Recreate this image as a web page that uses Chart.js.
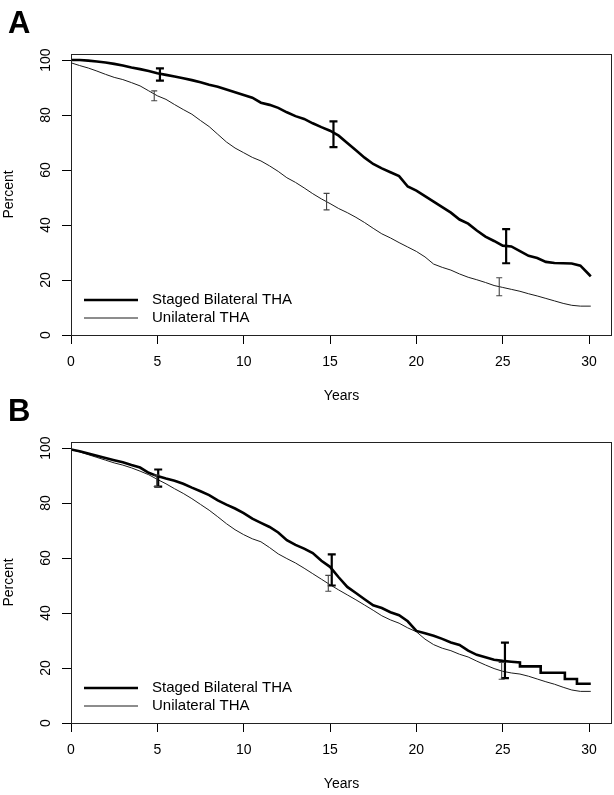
<!DOCTYPE html>
<html>
<head>
<meta charset="utf-8">
<script src="https://cdn.jsdelivr.net/npm/chart.js@4.4.1/dist/chart.umd.min.js"></script>
<style>
  html, body { margin: 0; padding: 0; background: #fff; }
  #page { position: relative; width: 614px; height: 795px; overflow: hidden; }
  .panel { position: absolute; left: 0; width: 614px; height: 407px; }
  #panelA { top: 0; }
  #panelB { top: 388px; }
</style>
</head>
<body>
<div id="page">
  <div class="panel" id="panelA"><canvas id="chartA" width="614" height="407"></canvas></div>
  <div class="panel" id="panelB"><canvas id="chartB" width="614" height="407"></canvas></div>
</div>
<script>
// time axis (years) shared by the curves
const years = [0, 0.5, 1, 1.5, 2, 2.5, 3, 3.5, 4, 4.5,
  5, 5.5, 6, 6.5, 7, 7.5, 8, 8.5, 9, 9.5,
  10, 10.5, 11, 11.5, 12, 12.5, 13, 13.5, 14, 14.5,
  15, 15.5, 16, 16.5, 17, 17.5, 18, 18.5, 19, 19.5,
  20, 20.5, 21, 21.5, 22, 22.5, 23, 23.5, 24, 24.5,
  25, 25.5, 26, 26.5, 27, 27.5, 28, 28.5, 29, 29.5,
  30, 30.1];
// panel B staged curve has clear steps in its tail
const yearsStagedB = [0, 0.5, 1, 1.5, 2, 2.5, 3, 3.5, 4, 4.5,
  5, 5.5, 6, 6.5, 7, 7.5, 8, 8.5, 9, 9.5,
  10, 10.5, 11, 11.5, 12, 12.5, 13, 13.5, 14, 14.5,
  15, 15.5, 16, 16.5, 17, 17.5, 18, 18.5, 19, 19.5,
  20, 20.5, 21, 21.5, 22, 22.5, 23, 23.5, 24, 24.5,
  25, 25.5, 26, 26, 27.2, 27.2, 28.6, 28.6, 29.3, 29.3, 30.1];

const xTicks = [0, 5, 10, 15, 20, 25, 30];
const yTicks = [0, 20, 40, 60, 80, 100];
const seriesLabels = ['Staged Bilateral THA', 'Unilateral THA'];

// panel A
const stagedA = [100, 100, 99.8, 99.5, 99.1, 98.6, 98.0, 97.3, 96.7, 96.0,
  95.2, 94.6, 94.0, 93.4, 92.7, 91.9, 91.0, 90.3, 89.3, 88.3,
  87.3, 86.3, 84.5, 83.7, 82.6, 81.0, 79.6, 78.6, 77.0, 75.6,
  74.3, 72.5, 69.8, 67.2, 64.5, 62.2, 60.6, 59.2, 57.8, 54.0,
  52.5, 50.5, 48.5, 46.5, 44.5, 42.0, 40.5, 38.0, 35.8, 34.2,
  32.5, 32.2, 30.5, 28.8, 28.0, 26.6, 26.2, 26.1, 26.0, 25.2,
  22.0, 21.3];
const unilateralA = [99.0, 98.0, 97.1, 96.0, 94.8, 93.7, 92.9, 91.8, 90.6, 88.8,
  87.0, 85.7, 83.8, 82.0, 80.3, 78.0, 75.8, 73.0, 70.2, 68.0,
  66.3, 64.6, 63.3, 61.5, 59.5, 57.2, 55.5, 53.5, 51.4, 49.5,
  47.8, 46.0, 44.5, 42.8, 40.9, 38.8, 36.8, 35.3, 33.6, 32.0,
  30.4, 28.4, 25.8, 24.6, 23.6, 22.2, 21.0, 20.1, 19.1, 18.0,
  17.3, 16.6, 15.9, 15.0, 14.2, 13.3, 12.4, 11.5, 10.8, 10.5,
  10.5, 10.5];
const stagedErrA = { x: [5.15, 15.2, 25.2], lo: [92.5, 68.3, 26.1], hi: [97.0, 77.7, 38.5] };
const unilateralErrA = { x: [4.82, 14.8, 24.8], lo: [85.2, 45.5, 14.3], hi: [88.8, 51.5, 20.8] };

// panel B
const stagedB = [99.5, 98.8, 98.0, 97.2, 96.4, 95.6, 94.8, 93.8, 92.9, 91.0,
  89.8, 88.9, 88.1, 87.0, 85.6, 84.3, 82.9, 81.0, 79.4, 78.0,
  76.3, 74.3, 72.8, 71.3, 69.3, 66.5, 64.8, 63.4, 61.8, 59.0,
  56.8, 53.0, 49.5, 47.3, 45.0, 42.8, 41.8, 40.3, 39.2, 37.0,
  33.5, 32.6, 31.7, 30.6, 29.3, 28.4, 26.3, 24.8, 23.9, 23.0,
  22.6, 22.3, 22.0, 20.6, 20.6, 18.3, 18.3, 16.0, 16.0, 14.3, 14.3];
const unilateralB = [99.5, 98.6, 97.6, 96.6, 95.6, 94.6, 93.8, 92.8, 91.6, 90.3,
  88.6, 87.0, 85.2, 83.5, 81.6, 79.5, 77.4, 75.0, 72.5, 70.3,
  68.5, 67.0, 65.9, 63.8, 61.5, 59.8, 58.2, 56.3, 54.3, 52.3,
  50.3, 48.4, 46.6, 44.8, 42.9, 41.0, 39.0, 37.5, 36.3, 34.6,
  33.2, 30.5, 28.5, 27.2, 26.3, 25.0, 24.0, 22.5, 21.1, 19.8,
  18.8, 18.2, 17.8, 17.0, 16.0, 15.0, 14.1, 13.0, 12.0, 11.5,
  11.5, 11.5];
const stagedErrB = { x: [5.05, 15.1, 25.13], lo: [86.0, 50.0, 16.3], hi: [92.2, 61.3, 29.2] };
const unilateralErrB = { x: [4.96, 14.9, 24.94], lo: [86.0, 47.9, 15.9], hi: [90.2, 53.7, 22.0] };

const FONT = '"Liberation Sans", Arial, Helvetica, sans-serif';
Chart.defaults.font.family = FONT;
Chart.defaults.color = '#000';

function makeChart(canvasId, letter, stagedX, staged, unilateral, stagedErr, uniErr) {
    const ctx = document.getElementById(canvasId).getContext('2d');

    // error bars, drawn through the chart's own scales
    const errorBars = {
        id: 'errorBars',
        afterDatasetsDraw(chart) {
            const c = chart.ctx;
            const xs = chart.scales.x, ys = chart.scales.y;
            const sets = [
                { err: stagedErr, color: '#000', width: 2.2, cap: 4 },
                { err: uniErr, color: '#444', width: 1.1, cap: 3 }
            ];
            c.save();
            sets.forEach(s => {
                c.strokeStyle = s.color;
                c.lineWidth = s.width;
                s.err.x.forEach((xv, i) => {
                    const px = xs.getPixelForValue(xv);
                    const pLo = ys.getPixelForValue(s.err.lo[i]);
                    const pHi = ys.getPixelForValue(s.err.hi[i]);
                    c.beginPath();
                    c.moveTo(px, pLo); c.lineTo(px, pHi);
                    c.moveTo(px - s.cap, pLo); c.lineTo(px + s.cap, pLo);
                    c.moveTo(px - s.cap, pHi); c.lineTo(px + s.cap, pHi);
                    c.stroke();
                });
            });
            c.restore();
        }
    };

    // box, rotated y labels, legend and panel letter
    const decorations = {
        id: 'decorations',
        afterDraw(chart) {
            const c = chart.ctx, a = chart.chartArea;
            const ys = chart.scales.y;
            c.save();
            c.strokeStyle = '#222';
            c.lineWidth = 1;
            c.strokeRect(a.left + 0.5, a.top + 0.5, a.right - a.left - 1, a.bottom - a.top);

            c.fillStyle = '#000';
            c.font = '14px ' + FONT;
            c.textAlign = 'center';
            c.textBaseline = 'middle';
            ys.ticks.forEach(t => {
                c.save();
                c.translate(a.left - 25, ys.getPixelForValue(t.value));
                c.rotate(-Math.PI / 2);
                c.fillText(String(t.value), 0, 0);
                c.restore();
            });

            // legend
            const lx = a.left + 13, ly = a.bottom - 35;
            c.font = '15px ' + FONT;
            c.textAlign = 'left';
            chart.data.datasets.forEach((ds, i) => {
                const y = ly + i * 18;
                c.strokeStyle = ds.borderColor;
                c.lineWidth = ds.borderWidth;
                c.beginPath();
                c.moveTo(lx, y); c.lineTo(lx + 54, y);
                c.stroke();
                c.fillText(ds.label, lx + 68, y);
            });

            c.font = 'bold 31px ' + FONT;
            c.textBaseline = 'alphabetic';
            c.fillText(letter, 8, 33);
            c.restore();
        }
    };

    const axisGrid = { drawOnChartArea: false, drawTicks: true, tickLength: 9, color: '#000', lineWidth: 1 };

    return new Chart(ctx, {
        type: 'line',
        data: {
            datasets: [
                {
                    label: seriesLabels[0],
                    data: stagedX.map((t, i) => ({ x: t, y: staged[i] })),
                    borderColor: '#000',
                    borderWidth: 2.6,
                    tension: 0,
                    pointRadius: 0,
                    fill: false
                },
                {
                    label: seriesLabels[1],
                    data: years.map((t, i) => ({ x: t, y: unilateral[i] })),
                    borderColor: '#1a1a1a',
                    borderWidth: 1,
                    tension: 0,
                    pointRadius: 0,
                    fill: false
                }
            ]
        },
        options: {
            responsive: false,
            animation: false,
            devicePixelRatio: 1,
            layout: { padding: { left: 0, right: 2, top: 54, bottom: 0 } },
            plugins: {
                legend: { display: false },
                tooltip: { enabled: false }
            },
            scales: {
                x: {
                    type: 'linear',
                    min: 0,
                    max: 31.33,
                    afterBuildTicks: s => { s.ticks = xTicks.map(v => ({ value: v })); },
                    afterFit: s => { s.height = 72; },
                    grid: axisGrid,
                    border: { display: false },
                    ticks: { padding: 10, font: { size: 14 }, color: '#000', maxRotation: 0, autoSkip: false },
                    title: { display: true, text: 'Years', font: { size: 14 }, color: '#000', padding: { top: 0, bottom: 2 } }
                },
                y: {
                    type: 'linear',
                    min: 0,
                    max: 102.2,
                    afterBuildTicks: s => { s.ticks = yTicks.map(v => ({ value: v })); },
                    afterFit: s => { s.width = 71; },
                    grid: axisGrid,
                    border: { display: false },
                    ticks: { display: false },
                    title: { display: true, text: 'Percent', font: { size: 14 }, color: '#000', padding: { top: 1, bottom: 0 } }
                }
            }
        },
        plugins: [errorBars, decorations]
    });
}

makeChart('chartA', 'A', years, stagedA, unilateralA, stagedErrA, unilateralErrA);
makeChart('chartB', 'B', yearsStagedB, stagedB, unilateralB, stagedErrB, unilateralErrB);
</script>
</body>
</html>
